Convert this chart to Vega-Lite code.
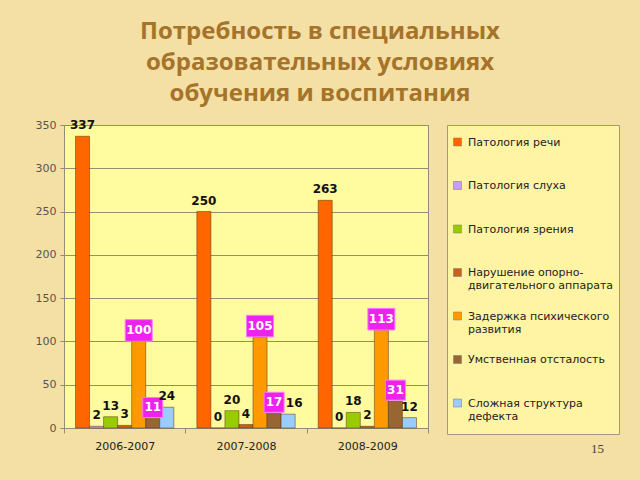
{
  "$schema": "https://vega.github.io/schema/vega-lite/v6.json",
  "width": 364,
  "height": 303,
  "autosize": {"type": "none"},
  "padding": {"left": 64, "top": 125, "right": 212, "bottom": 52},
  "background": "#F4DFA4",
  "title": {
    "text": ["Потребность в специальных", "образовательных условиях", "обучения и воспитания"],
    "font": "Open Sans",
    "fontSize": 24,
    "fontWeight": "bold",
    "color": "#A5732A",
    "anchor": "middle",
    "dx": 74,
    "dy": 1,
    "lineHeight": 31,
    "offset": 14
  },
  "data": {
    "values": [
      {"year": "2006-2007", "cat": "Патология речи", "value": 337},
      {"year": "2006-2007", "cat": "Патология слуха", "value": 2},
      {"year": "2006-2007", "cat": "Патология зрения", "value": 13},
      {"year": "2006-2007", "cat": "Нарушение опорно-двигательного аппарата", "value": 3},
      {"year": "2006-2007", "cat": "Задержка психического развития", "value": 100},
      {"year": "2006-2007", "cat": "Умственная отсталость", "value": 11},
      {"year": "2006-2007", "cat": "Сложная структура дефекта", "value": 24},
      {"year": "2007-2008", "cat": "Патология речи", "value": 250},
      {"year": "2007-2008", "cat": "Патология слуха", "value": 0},
      {"year": "2007-2008", "cat": "Патология зрения", "value": 20},
      {"year": "2007-2008", "cat": "Нарушение опорно-двигательного аппарата", "value": 4},
      {"year": "2007-2008", "cat": "Задержка психического развития", "value": 105},
      {"year": "2007-2008", "cat": "Умственная отсталость", "value": 17},
      {"year": "2007-2008", "cat": "Сложная структура дефекта", "value": 16},
      {"year": "2008-2009", "cat": "Патология речи", "value": 263},
      {"year": "2008-2009", "cat": "Патология слуха", "value": 0},
      {"year": "2008-2009", "cat": "Патология зрения", "value": 18},
      {"year": "2008-2009", "cat": "Нарушение опорно-двигательного аппарата", "value": 2},
      {"year": "2008-2009", "cat": "Задержка психического развития", "value": 113},
      {"year": "2008-2009", "cat": "Умственная отсталость", "value": 31},
      {"year": "2008-2009", "cat": "Сложная структура дефекта", "value": 12}
    ]
  },
  "encoding": {
    "x": {
      "field": "year",
      "type": "nominal",
      "scale": {"paddingInner": 0, "paddingOuter": 0},
      "axis": {
        "title": "15",
        "tickBand": "extent",
        "labelAngle": 0,
        "labelFont": "DejaVu Sans",
        "labelFontSize": 11,
        "labelColor": "#222222",
        "tickSize": 5,
        "labelPadding": 7,
        "domainColor": "#8F8F78",
        "tickColor": "#8F8F78",
        "titleFont": "Liberation Serif",
        "titleFontSize": 13,
        "titleFontWeight": "normal",
        "titleColor": "#444444",
        "titleX": 533,
        "titleY": 20,
        "titleAlign": "center",
        "titleBaseline": "middle"
      }
    },
    "xOffset": {
      "field": "cat",
      "type": "nominal",
      "scale": {
        "domain": ["Патология речи", "Патология слуха", "Патология зрения", "Нарушение опорно-двигательного аппарата", "Задержка психического развития", "Умственная отсталость", "Сложная структура дефекта"],
        "paddingInner": 0,
        "paddingOuter": 0.82
      }
    },
    "y": {
      "field": "value",
      "type": "quantitative",
      "scale": {"domain": [0, 350], "nice": false},
      "axis": {
        "title": null,
        "values": [0, 50, 100, 150, 200, 250, 300, 350],
        "grid": true,
        "gridColor": "#8F8F78",
        "domainColor": "#8F8F78",
        "tickColor": "#8F8F78",
        "tickSize": 4,
        "labelPadding": 4,
        "labelFont": "DejaVu Sans",
        "labelFontSize": 11,
        "labelColor": "#555555"
      }
    }
  },
  "layer": [
    {
      "mark": {"type": "bar", "stroke": "#553311", "strokeOpacity": 0.5, "strokeWidth": 1},
      "encoding": {
        "color": {
          "field": "cat",
          "type": "nominal",
          "scale": {
            "domain": ["Патология речи", "Патология слуха", "Патология зрения", "Нарушение опорно-двигательного аппарата", "Задержка психического развития", "Умственная отсталость", "Сложная структура дефекта"],
            "range": ["#FF6600", "#CC99FF", "#99CC00", "#CC6010", "#FF9900", "#996633", "#99CCFF"]
          },
          "legend": {
            "title": null,
            "orient": "right",
            "offset": 19,
            "padding": 5,
            "fillColor": "#FFF3A4",
            "strokeColor": "#A09A80",
            "symbolType": "square",
            "symbolSize": 64,
            "symbolStrokeColor": "#777777",
            "symbolStrokeWidth": 0.5,
            "labelFont": "DejaVu Sans",
            "labelFontSize": 11,
            "labelColor": "#222222",
            "labelLimit": 300,
            "labelOffset": 5,
            "labelBaseline": "top",
            "clipHeight": 38,
            "rowPadding": 5.5,
            "labelExpr": "datum.label === 'Нарушение опорно-двигательного аппарата' ? ['Нарушение опорно-', 'двигательного аппарата'] : datum.label === 'Задержка психического развития' ? ['Задержка психического', 'развития'] : datum.label === 'Сложная структура дефекта' ? ['Сложная структура', 'дефекта'] : datum.label",
            "encoding": {
              "symbols": {"y": {"value": 12}},
              "labels": {"y": {"value": 6.5}}
            }
          }
        }
      }
    },
    {
      "transform": [{"filter": "datum.cat === 'Задержка психического развития'"}],
      "mark": {"type": "point", "shape": "M-1,-0.8L1,-0.8L1,0.8L-1,0.8Z", "size": 729, "filled": true, "fill": "#EE22EE", "stroke": "#FF77FF", "strokeWidth": 1, "opacity": 1, "yOffset": -11}
    },
    {
      "transform": [{"filter": "datum.cat === 'Умственная отсталость'"}],
      "mark": {"type": "point", "shape": "square", "size": 400, "filled": true, "fill": "#EE22EE", "stroke": "#FF77FF", "strokeWidth": 1, "opacity": 1, "yOffset": -11}
    },
    {
      "transform": [{"filter": "datum.cat === 'Задержка психического развития' || datum.cat === 'Умственная отсталость'"}],
      "mark": {"type": "text", "font": "DejaVu Sans", "fontSize": 12, "fontWeight": "bold", "color": "#FFFFFF", "baseline": "middle", "yOffset": -11},
      "encoding": {"text": {"field": "value", "type": "quantitative"}}
    },
    {
      "transform": [{"filter": "datum.cat !== 'Задержка психического развития' && datum.cat !== 'Умственная отсталость' && !(datum.year === '2007-2008' && datum.cat === 'Сложная структура дефекта')"}],
      "mark": {"type": "text", "font": "DejaVu Sans", "fontSize": 12, "fontWeight": "bold", "color": "#111111", "baseline": "middle", "yOffset": -11},
      "encoding": {"text": {"field": "value", "type": "quantitative"}}
    },
    {
      "transform": [{"filter": "datum.year === '2007-2008' && datum.cat === 'Сложная структура дефекта'"}],
      "mark": {"type": "text", "font": "DejaVu Sans", "fontSize": 12, "fontWeight": "bold", "color": "#111111", "baseline": "middle", "yOffset": -11, "dx": 6},
      "encoding": {"text": {"field": "value", "type": "quantitative"}}
    }
  ],
  "config": {
    "view": {"fill": "#FFFB9E", "stroke": "#8F8F78", "strokeWidth": 1}
  }
}
